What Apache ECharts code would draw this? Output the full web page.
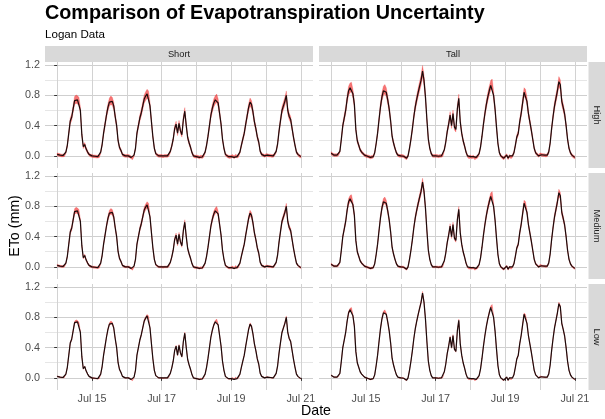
<!DOCTYPE html>
<html>
<head>
<meta charset="utf-8">
<title>Comparison of Evapotranspiration Uncertainty</title>
<script src="https://cdn.jsdelivr.net/npm/echarts@6/dist/echarts.min.js"></script>
<style>
  html, body { margin: 0; padding: 0; background: #fff; }
  #chart { width: 605px; height: 419px; }
</style>
</head>
<body>
<div id="chart"></div>
<script>
// hourly ETo (mm), Jul 14 00:00 -> Jul 21 00:00 (169 points)
const shortEto = [
    0.02, 0.015, 0.01, 0.005, 0.005, 0.01, 0.05, 0.14, 0.30, 0.46, 0.51, 0.62, 0.73, 0.75, 0.74, 0.72, 0.60, 0.28, 0.12, 0.15, 0.09, 0.05, 0.02, 0.005,
    0.0, -0.005, -0.005, -0.01, -0.01, -0.005, 0.05, 0.15, 0.30, 0.42, 0.54, 0.64, 0.71, 0.735, 0.72, 0.66, 0.52, 0.40, 0.20, 0.11, 0.07, 0.02, 0.005, 0.0,
    0.0, 0.0, -0.005, -0.02, -0.03, 0.01, 0.10, 0.30, 0.40, 0.50, 0.57, 0.66, 0.75, 0.79, 0.82, 0.80, 0.66, 0.45, 0.25, 0.10, 0.03, 0.01, 0.0, 0.0,
    0.0, -0.005, 0.0, 0.0, 0.0, 0.01, 0.06, 0.13, 0.22, 0.36, 0.42, 0.30, 0.43, 0.33, 0.28, 0.48, 0.59, 0.40, 0.24, 0.17, 0.11, 0.04, 0.0, -0.01,
    -0.01, -0.01, -0.02, -0.01, -0.015, 0.0, 0.05, 0.14, 0.26, 0.40, 0.54, 0.63, 0.70, 0.74, 0.76, 0.70, 0.56, 0.42, 0.22, 0.10, 0.02, 0.0, -0.01, -0.015,
    -0.01, 0.0, -0.02, 0.005, -0.01, 0.0, 0.05, 0.14, 0.22, 0.30, 0.42, 0.53, 0.64, 0.71, 0.68, 0.58, 0.45, 0.36, 0.25, 0.18, 0.06, 0.02, 0.01, 0.0,
    0.01, 0.01, 0.005, 0.005, 0.0, 0.0, 0.02, 0.06, 0.16, 0.33, 0.47, 0.60, 0.66, 0.72, 0.80, 0.60, 0.52, 0.48, 0.36, 0.24, 0.14, 0.05, 0.02, 0.0,
    -0.01
];
const tallEto = [
    0.035, 0.02, 0.01, 0.01, 0.01, 0.02, 0.06, 0.22, 0.40, 0.50, 0.60, 0.75, 0.86, 0.90, 0.91, 0.82, 0.68, 0.35, 0.20, 0.14, 0.08, 0.05, 0.03, 0.01,
    0.0, -0.005, -0.01, -0.02, -0.015, -0.01, 0.04, 0.16, 0.30, 0.48, 0.65, 0.78, 0.86, 0.88, 0.84, 0.74, 0.62, 0.46, 0.26, 0.17, 0.10, 0.04, 0.01, 0.0,
    0.0, 0.0, -0.005, -0.02, -0.03, 0.0, 0.10, 0.22, 0.36, 0.52, 0.65, 0.75, 0.84, 0.92, 1.0, 1.12, 1.0, 0.78, 0.48, 0.22, 0.10, 0.03, 0.0, 0.0,
    0.0, 0.0, -0.005, 0.0, 0.0, 0.01, 0.08, 0.18, 0.32, 0.42, 0.54, 0.40, 0.56, 0.38, 0.35, 0.62, 0.76, 0.45, 0.30, 0.20, 0.13, 0.05, 0.0, -0.02,
    -0.01, -0.02, -0.01, -0.03, -0.02, -0.01, 0.03, 0.12, 0.26, 0.42, 0.56, 0.68, 0.78, 0.86, 0.93, 0.95, 0.80, 0.62, 0.38, 0.16, 0.04, 0.0, -0.02, -0.03,
    -0.01, 0.01, -0.03, 0.0, -0.02, 0.0, 0.04, 0.14, 0.25, 0.30, 0.45, 0.56, 0.70, 0.84, 0.82, 0.72, 0.56, 0.45, 0.34, 0.22, 0.10, 0.04, 0.02, 0.0,
    0.02, 0.015, 0.01, 0.01, 0.005, 0.01, 0.05, 0.17, 0.36, 0.52, 0.66, 0.76, 0.86, 0.98, 0.94, 0.72, 0.64, 0.55, 0.40, 0.22, 0.10, 0.04, 0.01, -0.01,
    -0.02
];

const crops = ['Short', 'Tall'];
const levels = ['High', 'Medium', 'Low'];
// half width of the uncertainty band: relative part and floor (mm)
const levelSpread = [0.05, 0.035, 0.015];
const levelFloor = [0.018, 0.012, 0.006];

// ticks
const firstDay = 14; // hour 0 = Jul 14 00:00
const majorHours = [24, 72, 120, 168];
const minorHours = [0, 48, 96, 144];
const majorEto = [0, 0.4, 0.8, 1.2];
const minorEto = [0.2, 0.6, 1.0];

// layout
const FONT = '"Liberation Sans", Arial, sans-serif';
const colLeft = [45, 319];
const rowTop = [62, 173, 284];
const panelW = 268, panelH = 106;

let grids = [], xAxes = [], yAxes = [], series = [], graphics = [];

//ribbon drawn as one polygon through the axis scales
function ribbonRenderer(rows) {
    return function (params, api) {
        if (params.dataIndex !== 0) return null;
        let top = rows.map(d => api.coord([d[0], d[2]]));
        let bottom = rows.map(d => api.coord([d[0], d[1]])).reverse();
        return {
            type: 'polygon',
            shape: { points: top.concat(bottom) },
            style: { fill: 'rgba(238, 24, 24, 0.6)', stroke: 'rgba(238, 24, 24, 0.35)', lineWidth: 0.6 },
            silent: true
        };
    };
}

levels.forEach((level, r) => {
    crops.forEach((crop, c) => {
        let g = grids.length;
        let isBottom = r === levels.length - 1;
        let isLeft = c === 0;
        grids.push({ left: colLeft[c], top: rowTop[r], width: panelW, height: panelH });

        // major x
        xAxes.push({
            type: 'value', gridIndex: g, min: -8.4, max: 176.4,
            axisLine: { show: false },
            axisTick: { show: isBottom, customValues: majorHours, length: 3, lineStyle: { color: '#333' } },
            axisLabel: {
                show: isBottom, customValues: majorHours, margin: 4, color: '#4d4d4d',
                fontSize: 10.8, fontFamily: FONT,
                formatter: v => 'Jul ' + (firstDay + v / 24)
            },
            splitLine: { show: true, lineStyle: { color: '#d2d2d2', width: 1 } }
        });
        // minor x
        xAxes.push({
            type: 'value', gridIndex: g, min: -8.4, max: 176.4,
            axisLine: { show: false },
            axisTick: { show: false, customValues: minorHours },
            axisLabel: { show: false },
            splitLine: { show: true, lineStyle: { color: '#d2d2d2', width: 1 } }
        });
        // major y
        yAxes.push({
            type: 'value', gridIndex: g, min: -0.16, max: 1.24,
            axisLine: { show: false },
            axisTick: { show: isLeft, customValues: majorEto, length: 3, lineStyle: { color: '#333' } },
            axisLabel: {
                show: isLeft, customValues: majorEto, margin: 5, color: '#4d4d4d',
                fontSize: 10.8, fontFamily: FONT,
                formatter: v => v.toFixed(1)
            },
            splitLine: { show: true, lineStyle: { color: '#cfcfcf', width: 1 } }
        });
        // minor y
        yAxes.push({
            type: 'value', gridIndex: g, min: -0.16, max: 1.24, position: 'left',
            axisLine: { show: false },
            axisTick: { show: false, customValues: minorEto },
            axisLabel: { show: false },
            splitLine: { show: true, lineStyle: { color: '#e6e6e6', width: 1 } }
        });

        let values = c === 0 ? shortEto : tallEto;
        let k = levelSpread[r], a = levelFloor[r];
        let rows = values.map((v, i) => [i, v - Math.abs(v) * k - a, v + Math.abs(v) * k + a]);

        series.push({
            type: 'custom', xAxisIndex: 2 * g, yAxisIndex: 2 * g,
            data: rows, encode: { x: 0, y: [1, 2] },
            renderItem: ribbonRenderer(rows), silent: true, z: 2
        });
        series.push({
            type: 'line', xAxisIndex: 2 * g, yAxisIndex: 2 * g,
            data: values.map((v, i) => [i, v]),
            symbol: 'none', lineStyle: { color: '#1c0c0c', width: 1.2 }, z: 3
        });
    });
});

// column strips
crops.forEach((crop, c) => {
    graphics.push({ type: 'rect', shape: { x: colLeft[c], y: 46, width: panelW, height: 16 }, style: { fill: '#d9d9d9' } });
    graphics.push({
        type: 'text', x: colLeft[c] + panelW / 2, y: 54,
        style: { text: crop, fill: '#1a1a1a', font: '9.3px ' + FONT, align: 'center', verticalAlign: 'middle' }
    });
});
// row strips
levels.forEach((level, r) => {
    graphics.push({ type: 'rect', shape: { x: 588.5, y: rowTop[r], width: 17, height: panelH }, style: { fill: '#d9d9d9' } });
    graphics.push({
        type: 'text', x: 596.5, y: rowTop[r] + panelH / 2, rotation: -Math.PI / 2,
        style: { text: level, fill: '#1a1a1a', font: '9.3px ' + FONT, align: 'center', verticalAlign: 'middle' }
    });
});
// titles
graphics.push({
    type: 'text', x: 45, y: 14,
    style: { text: 'Comparison of Evapotranspiration Uncertainty', fill: '#000', font: 'bold 19.8px ' + FONT, align: 'left', verticalAlign: 'middle' }
});
graphics.push({
    type: 'text', x: 45, y: 34.5,
    style: { text: 'Logan Data', fill: '#000', font: '11.6px ' + FONT, align: 'left', verticalAlign: 'middle' }
});
graphics.push({
    type: 'text', x: 15, y: 226, rotation: Math.PI / 2,
    style: { text: 'ETo (mm)', fill: '#000', font: '14.2px ' + FONT, align: 'center', verticalAlign: 'middle' }
});
graphics.push({
    type: 'text', x: 316, y: 411,
    style: { text: 'Date', fill: '#000', font: '14.2px ' + FONT, align: 'center', verticalAlign: 'middle' }
});

let myChart = echarts.init(document.querySelector('#chart'), null, { renderer: 'canvas' });
myChart.setOption({
    animation: false,
    backgroundColor: '#fff',
    grid: grids,
    xAxis: xAxes,
    yAxis: yAxes,
    series: series,
    graphic: graphics
});
</script>
</body>
</html>
